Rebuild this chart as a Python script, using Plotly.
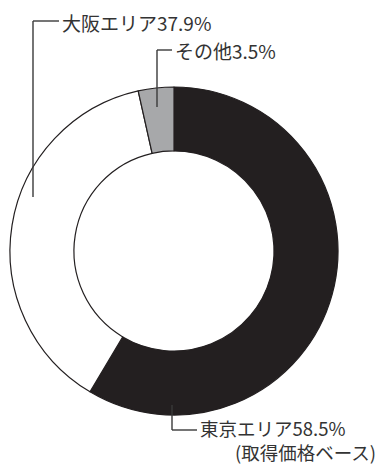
import plotly.graph_objects as go

W, H = 378, 465

labels = ["東京エリア", "大阪エリア", "その他"]
values = [58.5, 37.9, 3.5]
colors = ["#231f20", "#ffffff", "#a7a8aa"]
label_texts = ["東京エリア58.5%", "大阪エリア37.9%", "その他3.5%"]
note_text = "(取得価格ベース)"

def px(x):
    return x / W

def py(y):
    return 1 - y / H

fig = go.Figure(go.Pie(
    labels=labels,
    values=values,
    sort=False,
    direction="clockwise",
    rotation=0,
    hole=0.61,
    marker=dict(colors=colors, line=dict(color="#231f20", width=1.2)),
    textinfo="none",
    hoverinfo="label+value",
    domain=dict(x=[px(10), px(338)], y=[py(415), py(87)]),
    showlegend=False,
))

line_style = dict(color="#3a3a3a", width=1.4)
shapes = []
def seg(x0, y0, x1, y1):
    shapes.append(dict(type="line", xref="paper", yref="paper",
                       x0=px(x0), y0=py(y0), x1=px(x1), y1=py(y1), line=line_style))
# 大阪
seg(33, 197, 33, 21)
seg(33, 21, 59, 21)
# その他
seg(157, 107, 157, 50)
seg(157, 50, 172, 50)
# 東京
seg(172, 405, 172, 430)
seg(172, 430, 197, 430)

font = dict(family="Noto Sans CJK JP", size=19, color="#333333")
font_b = dict(family="Noto Sans CJK JP", size=18.5, color="#333333")
annotations = [
    dict(text=label_texts[1], x=px(62), y=py(22), xanchor="left", yanchor="middle", font=font),
    dict(text=label_texts[2], x=px(175), y=py(50), xanchor="left", yanchor="middle", font=font),
    dict(text=label_texts[0], x=px(200), y=py(428), xanchor="left", yanchor="middle", font=font_b),
    dict(text=note_text, x=px(376), y=py(452), xanchor="right", yanchor="middle", font=font_b),
]
for a in annotations:
    a.update(xref="paper", yref="paper", showarrow=False, borderpad=0, borderwidth=0)

fig.update_layout(
    width=W, height=H,
    margin=dict(l=0, r=0, t=0, b=0),
    paper_bgcolor="white",
    plot_bgcolor="white",
    shapes=shapes,
    annotations=annotations,
)

fig.write_html(
    "out.html",
    config={"displayModeBar": False},
    post_script="document.body.style.margin='0';document.body.style.overflow='hidden';",
)
